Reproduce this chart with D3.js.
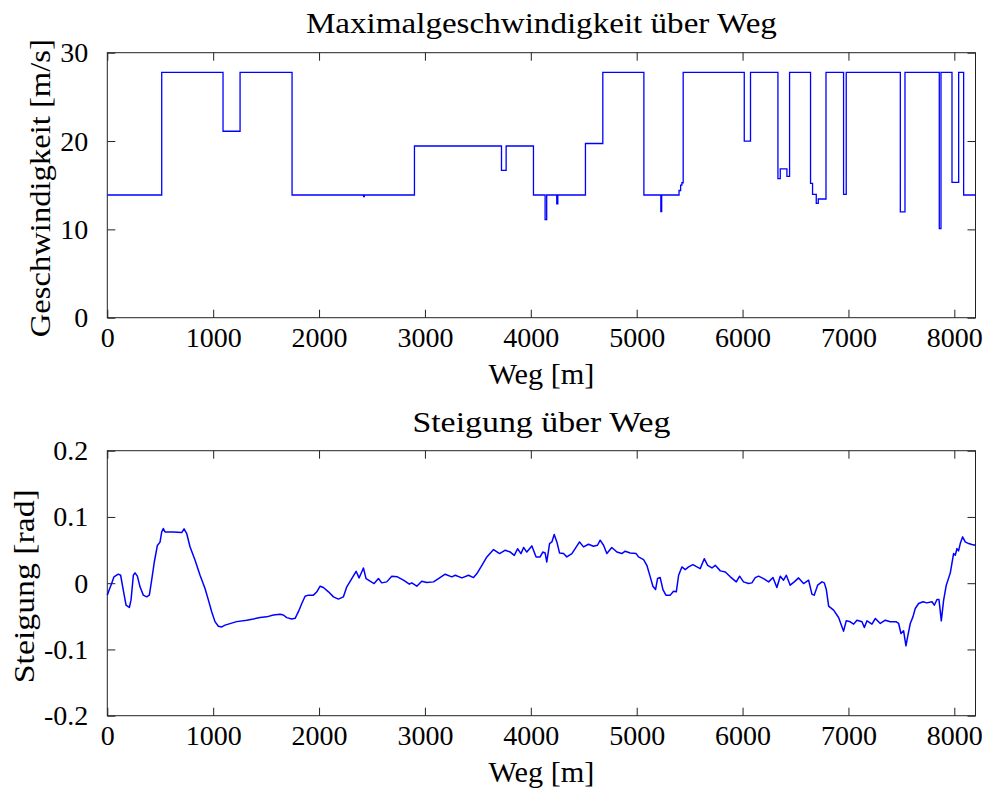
<!DOCTYPE html>
<html>
<head>
<meta charset="utf-8">
<script src="https://cdn.jsdelivr.net/npm/d3@7"></script>
<style>
  html, body { margin: 0; padding: 0; background: #fff; }
  svg text { font-family: "Liberation Serif", "Times New Roman", serif; fill: #000; }
</style>
</head>
<body>
<svg id="chart" width="985" height="794"></svg>
<script>
// ---- Data: Maximalgeschwindigkeit (step function: start position [m] -> speed [m/s]) ----
const speedWeg = [0, 514, 1093, 1254, 1745, 2420, 2428, 2901, 3723, 3767, 4025, 4135, 4150, 4245, 4255,
  4516, 4680, 5068, 5228, 5236, 5400, 5415, 5427, 5439, 6016, 6075, 6334, 6356, 6419, 6444,
  6642, 6661, 6696, 6715, 6788, 6954, 6979, 7490, 7534, 7858, 7874, 7978, 8041, 8088, 8200];
const speedVal = [13.89, 27.78, 21.11, 27.78, 13.89, 13.7, 13.89, 19.44, 16.67, 19.44, 13.89, 11.11, 13.89, 12.9, 13.89,
  19.72, 27.78, 13.89, 12.0, 13.89, 14.4, 15.0, 15.28, 27.78, 20.0, 27.78, 15.74, 16.84, 16.0, 27.78,
  15.2, 13.97, 12.95, 13.44, 27.78, 13.97, 27.78, 11.97, 27.78, 10.08, 27.78, 15.33, 27.78, 13.89, 13.89];

// ---- Data: Steigung über Weg ----
const slopeWeg = [0, 19, 41, 63, 104, 126, 151, 177, 208, 224, 246, 262, 284, 309, 340, 372, 397, 419, 444, 473,
  498, 514, 529, 545, 624, 703, 725, 750, 781, 829, 876, 923, 955, 986, 1017, 1049, 1081, 1112, 1159, 1222,
  1317, 1380, 1443, 1506, 1569, 1632, 1663, 1695, 1742, 1774, 1805, 1837, 1868, 1900, 1947, 1979, 2010, 2041,
  2089, 2136, 2183, 2230, 2262, 2309, 2350, 2378, 2403, 2419, 2444, 2482, 2520, 2561, 2592, 2639, 2687, 2740,
  2797, 2853, 2876, 2923, 2970, 3018, 3081, 3128, 3191, 3254, 3286, 3349, 3412, 3459, 3491, 3538, 3585, 3648,
  3705, 3759, 3806, 3844, 3875, 3907, 3932, 3962, 4010, 4050, 4088, 4113, 4135, 4151, 4177, 4199, 4221, 4246,
  4271, 4309, 4340, 4388, 4419, 4460, 4498, 4545, 4592, 4630, 4655, 4687, 4718, 4765, 4813, 4860, 4891, 4939,
  4995, 5017, 5065, 5096, 5128, 5153, 5178, 5197, 5222, 5248, 5276, 5317, 5348, 5374, 5396, 5427, 5459, 5490,
  5531, 5569, 5600, 5638, 5670, 5711, 5742, 5790, 5837, 5884, 5941, 5972, 6009, 6056, 6088, 6120, 6151, 6198,
  6246, 6287, 6324, 6356, 6387, 6413, 6450, 6488, 6529, 6576, 6624, 6655, 6677, 6709, 6750, 6772, 6791, 6813,
  6860, 6907, 6954, 6979, 7017, 7049, 7080, 7128, 7150, 7175, 7222, 7254, 7301, 7348, 7395, 7452, 7474, 7496,
  7521, 7543, 7562, 7584, 7609, 7631, 7663, 7704, 7741, 7789, 7811, 7836, 7855, 7877, 7899, 7924, 7962, 7993,
  8009, 8025, 8040, 8056, 8078, 8103, 8135, 8166, 8198];
const slopeVal = [-0.018, -0.0096, -0.0005, 0.0096, 0.0136, 0.012, -0.0106, -0.033, -0.0367, -0.0256, 0.012, 0.0156,
  0.0106, -0.0055, -0.018, -0.0206, -0.018, 0.0045, 0.032, 0.057, 0.062, 0.0774, 0.0825, 0.0774, 0.0774, 0.0764,
  0.082, 0.075, 0.055, 0.0347, 0.012, -0.008, -0.0256, -0.043, -0.058, -0.065, -0.066, -0.0633, -0.061, -0.058,
  -0.0558, -0.054, -0.0518, -0.0508, -0.048, -0.0468, -0.048, -0.052, -0.054, -0.053, -0.043, -0.0307, -0.0196,
  -0.018, -0.018, -0.013, -0.0045, -0.0065, -0.013, -0.0206, -0.024, -0.0206, -0.0055, 0.007, 0.018, 0.008, 0.017,
  0.023, 0.007, 0.003, -0.0005, 0.007, 0.0005, 0.002, 0.0106, 0.0096, 0.0045, -0.0015, 0.0005, -0.0045, 0.003,
  0.001, 0.002, 0.007, 0.0136, 0.0096, 0.012, 0.008, 0.012, 0.0085, 0.0146, 0.027, 0.0397, 0.0508, 0.0447, 0.0498,
  0.047, 0.042, 0.052, 0.0447, 0.054, 0.047, 0.0563, 0.0397, 0.0397, 0.047, 0.0457, 0.032, 0.0598, 0.0623, 0.0734,
  0.0623, 0.0457, 0.0447, 0.0397, 0.0447, 0.0523, 0.0623, 0.0548, 0.0588, 0.0558, 0.0573, 0.0649, 0.0573, 0.0447,
  0.0538, 0.047, 0.0447, 0.0483, 0.0457, 0.0447, 0.0397, 0.0357, 0.027, 0.0096, -0.0045, -0.0096, 0.007, 0.0085,
  -0.0096, -0.018, -0.018, -0.012, -0.013, 0.012, 0.0246, 0.0206, 0.0246, 0.028, 0.0246, 0.022, 0.037, 0.027, 0.023,
  0.027, 0.0186, 0.017, 0.0096, 0.002, 0.0106, 0.002, -0.0005, 0.0005, 0.0085, 0.0106, 0.007, 0.002, 0.0085, -0.0065,
  0.0106, 0.0045, 0.012, -0.003, 0.002, 0.008, -0.0005, 0.0045, -0.0166, -0.018, -0.003, 0.002, 0.0005, -0.0096,
  -0.0347, -0.0407, -0.0518, -0.0724, -0.0568, -0.0583, -0.0618, -0.0558, -0.0583, -0.0669, -0.0568, -0.0618,
  -0.0533, -0.0608, -0.0558, -0.0583, -0.0583, -0.0608, -0.0759, -0.0719, -0.0945, -0.0784, -0.0608, -0.0508,
  -0.0382, -0.0307, -0.028, -0.0297, -0.028, -0.0332, -0.0246, -0.0246, -0.0568, -0.0256, -0.003, 0.0156, 0.0447,
  0.0422, 0.0523, 0.0488, 0.0598, 0.0699, 0.0623, 0.0598, 0.0583, 0.0573];

// ---- Axis ticks & labels ----
const xTicks = [0, 1000, 2000, 3000, 4000, 5000, 6000, 7000, 8000];
const speedTicks = [0, 10, 20, 30];
const slopeTicks = [-0.2, -0.1, 0, 0.1, 0.2];
const slopeTickLabels = ["-0.2", "-0.1", "0", "0.1", "0.2"];
const titles = ["Maximalgeschwindigkeit über Weg", "Steigung über Weg"];
const xLabel = "Weg [m]";
const yLabels = ["Geschwindigkeit [m/s]", "Steigung [rad]"];

// ---- Drawing ----
const svg = d3.select("#chart");
const FS = 28;     // tick labels
const LFS = 29;    // titles and axis labels
const left = 107.3, right = 975.5;

const x = d3.scaleLinear().domain([0, 8200]).range([left, right]);

const panels = [
  { top: 52.7, bottom: 317.7, domain: [0, 30], ticks: speedTicks, fmt: d => String(d),
    title: titles[0], titleLen: 471, titleY: 33, xLabY: 384, yLab: yLabels[0], yLabLen: 298, yLabX: 50 },
  { top: 450.7, bottom: 715.7, domain: [-0.2, 0.2], ticks: slopeTicks, fmt: d => slopeTickLabels[slopeTicks.indexOf(d)],
    title: titles[1], titleLen: 258, titleY: 432, xLabY: 782, yLab: yLabels[1], yLabLen: 194, yLabX: 34 }
];

panels.forEach((p, i) => {
  const y = d3.scaleLinear().domain(p.domain).range([p.bottom, p.top]);
  p.y = y;
  const g = svg.append("g");

  const styleAxis = sel => {
    sel.select(".domain").remove();
    sel.selectAll(".tick line").attr("stroke", "#222").attr("stroke-width", 1);
    sel.selectAll(".tick text").attr("font-size", FS).attr("font-family", '"Liberation Serif", serif').attr("fill", "#000");
  };

  g.append("g").attr("transform", `translate(0,${p.bottom})`)
    .call(d3.axisBottom(x).tickValues(xTicks).tickSize(-8).tickPadding(9.5).tickFormat(d3.format("d")))
    .call(styleAxis);
  g.append("g").attr("transform", `translate(0,${p.top})`)
    .call(d3.axisTop(x).tickValues(xTicks).tickSize(-8).tickFormat(""))
    .call(styleAxis);
  g.append("g").attr("transform", `translate(${left},0)`)
    .call(d3.axisLeft(y).tickValues(p.ticks).tickSize(-8).tickPadding(19).tickFormat(p.fmt))
    .call(styleAxis);
  g.append("g").attr("transform", `translate(${right},0)`)
    .call(d3.axisRight(y).tickValues(p.ticks).tickSize(-8).tickFormat(""))
    .call(styleAxis);

  g.append("rect").attr("x", left).attr("y", p.top)
    .attr("width", right - left).attr("height", p.bottom - p.top)
    .attr("fill", "none").attr("stroke", "#222").attr("stroke-width", 1);

  g.append("text").attr("x", (left + right) / 2).attr("y", p.titleY)
    .attr("text-anchor", "middle").attr("font-size", LFS)
    .attr("textLength", p.titleLen).attr("lengthAdjust", "spacingAndGlyphs").text(p.title);
  g.append("text").attr("x", (left + right) / 2).attr("y", p.xLabY)
    .attr("text-anchor", "middle").attr("font-size", LFS)
    .attr("textLength", 106).attr("lengthAdjust", "spacingAndGlyphs").text(xLabel);
  g.append("text").attr("transform", `translate(${p.yLabX},${(p.top + p.bottom) / 2 + 3}) rotate(-90)`)
    .attr("text-anchor", "middle").attr("font-size", LFS)
    .attr("textLength", p.yLabLen).attr("lengthAdjust", "spacingAndGlyphs").text(p.yLab);
});

// speed line (step)
const speedData = speedWeg.map((w, i) => [w, speedVal[i]]);
svg.append("path").datum(speedData)
  .attr("fill", "none").attr("stroke", "#0000ff").attr("stroke-width", 1.3)
  .attr("d", d3.line().x(d => x(d[0])).y(d => panels[0].y(d[1])).curve(d3.curveStepAfter));

// slope line
const slopeData = slopeWeg.map((w, i) => [w, slopeVal[i]]);
svg.append("path").datum(slopeData)
  .attr("fill", "none").attr("stroke", "#0000ff").attr("stroke-width", 1.5)
  .attr("stroke-linejoin", "round")
  .attr("d", d3.line().x(d => x(d[0])).y(d => panels[1].y(d[1])));
</script>
</body>
</html>
